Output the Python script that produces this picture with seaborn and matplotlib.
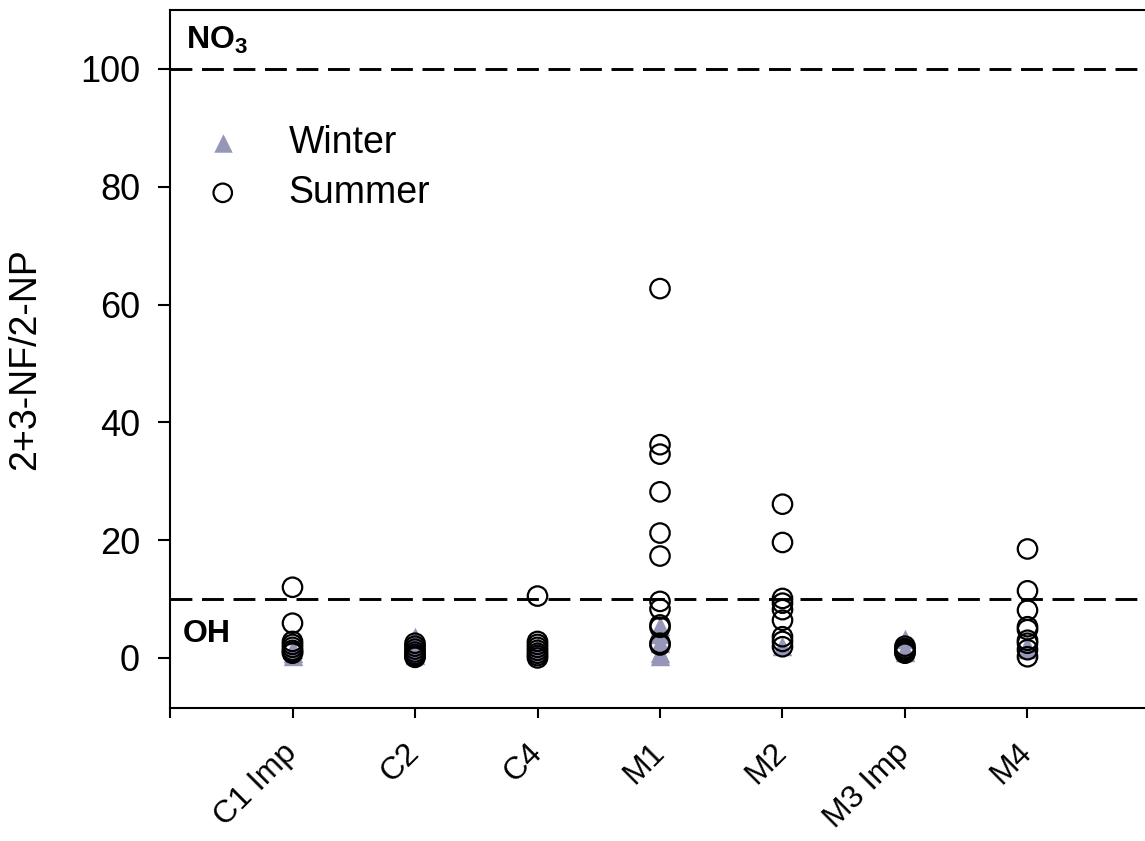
import pandas as pd
import matplotlib
matplotlib.use("Agg")
import matplotlib.pyplot as plt
import seaborn as sns

# values
sites = ["C1 Imp", "C2", "C4", "M1", "M2", "M3 Imp", "M4"]

winter_c1 = [0.3, 0.8, 1.5]
winter_c2 = [3.5, 2.0, 1.0, 0.5]
winter_c4 = [2.0, 1.0]
winter_m1 = [0.3, 0.8, 2.5, 4.0, 5.5]
winter_m2 = [2.0]
winter_m3 = [3.2, 1.5, 1.0]
winter_m4 = [2.0, 1.5]

summer_c1 = [12.0, 5.9, 2.8, 2.3, 1.8, 1.3, 1.0, 0.8]
summer_c2 = [2.5, 2.0, 1.5, 1.0, 0.6, 0.3, 0.1]
summer_c4 = [10.5, 2.8, 2.3, 1.8, 1.3, 0.8, 0.4, 0.0]
summer_m1 = [62.7, 36.2, 34.6, 28.2, 21.2, 17.3, 9.6, 8.3, 5.6, 5.2, 2.5, 2.2]
summer_m2 = [26.1, 19.6, 10.1, 9.3, 8.2, 6.4, 3.6, 2.8, 1.9]
summer_m3 = [2.0, 1.6, 1.3, 1.0, 0.8]
summer_m4 = [18.5, 11.4, 8.1, 5.3, 4.8, 3.0, 2.5, 1.4, 0.2]

no3_level = 100
oh_level = 10

winter_color = "#9696B9"


def long_form(groups):
    rows = []
    for site, vals in zip(sites, groups):
        for v in vals:
            rows.append({"site": site, "ratio": v})
    return pd.DataFrame(rows)


winter = long_form([winter_c1, winter_c2, winter_c4, winter_m1, winter_m2, winter_m3, winter_m4])
summer = long_form([summer_c1, summer_c2, summer_c4, summer_m1, summer_m2, summer_m3, summer_m4])

sns.set_style("ticks")
plt.rcParams["font.family"] = ["Liberation Sans", "DejaVu Sans"]
plt.rcParams["mathtext.fontset"] = "custom"
plt.rcParams["mathtext.bf"] = "Liberation Sans:bold"
plt.rcParams["mathtext.rm"] = "Liberation Sans"
for key in ["text.color", "axes.labelcolor", "xtick.color", "ytick.color", "axes.edgecolor"]:
    plt.rcParams[key] = "black"

fig = plt.figure(figsize=(11.45, 8.41), dpi=100)
ax = fig.add_axes([170 / 1145, 1 - 708 / 841, 980 / 1145, 698 / 841])

# winter triangles underneath
n0 = len(ax.collections)
sns.stripplot(data=winter, x="site", y="ratio", order=sites, jitter=False,
              marker="^", color=winter_color, s=14, linewidth=0, ax=ax, zorder=3)
winter_handle = ax.collections[n0]

# summer hollow circles on top
n1 = len(ax.collections)
sns.stripplot(data=summer, x="site", y="ratio", order=sites, jitter=False,
              marker="o", color="black", s=14, linewidth=1.6, edgecolor="black",
              ax=ax, zorder=4)
for coll in ax.collections[n1:]:
    coll.set_facecolor("none")
    coll.set_edgecolor("black")
summer_handle = ax.collections[n1]

# reference lines
ax.axhline(no3_level, color="black", lw=2.1, dashes=(7.5, 3.3), zorder=2)
ax.axhline(oh_level, color="black", lw=2.1, dashes=(7.5, 3.3), zorder=2)

ax.set_xlim(-1, 7)
ax.set_ylim(-8.5, 110)
ax.set_yticks([0, 20, 40, 60, 80, 100])
ax.set_xticks(list(range(-1, 7)))
ax.set_xticklabels([""] + sites, rotation=45, ha="right", va="center",
                   rotation_mode="anchor")
ax.tick_params(axis="y", labelsize=26, length=8.6, width=1.5, pad=13, direction="out")
ax.tick_params(axis="x", labelsize=23, length=7, width=1.5, pad=22, direction="out")

ax.set_xlabel("")
ax.set_ylabel("2+3-NF/2-NP", fontsize=27)
ax.yaxis.set_label_coords(-0.1296, 0.5)

for side in ["left", "bottom", "top"]:
    ax.spines[side].set_linewidth(1.5)
ax.spines["right"].set_visible(False)

ax.text(-0.87, 104.8, r"$\mathbf{NO_3}$", fontsize=23, va="center", ha="left")
ax.text(-0.9, 4.0, "OH", fontsize=23, fontweight="bold", va="center", ha="left")

ax.legend([winter_handle, summer_handle], ["Winter", "Summer"],
          loc="upper left", bbox_to_anchor=(0.0347, 0.835), frameon=False,
          fontsize=27, borderpad=0, borderaxespad=0, handlelength=1.0,
          handletextpad=1.25, labelspacing=0.36, markerscale=0.95)

fig.savefig("out.png", dpi=100)
